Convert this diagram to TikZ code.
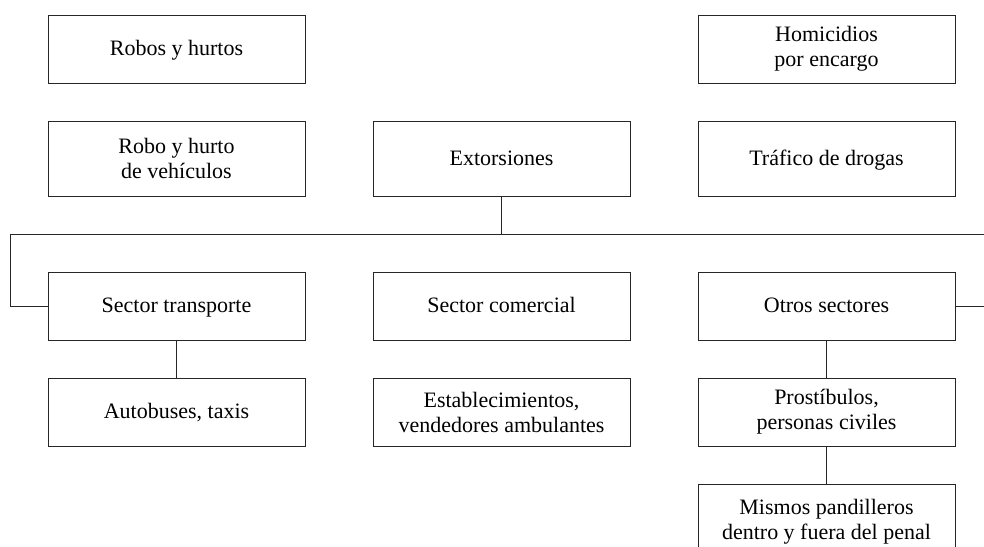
\documentclass[tikz,border=0pt]{standalone}
\usepackage{fontspec}
\setmainfont{Liberation Serif}
\begin{document}
\begin{tikzpicture}[x=1pt,y=-1pt,
  box/.style={draw=black!85,line width=1pt,minimum width=257pt,inner sep=0pt,align=center,
    font=\fontsize{22}{25}\selectfont},
  lo/.style={box,minimum height=68pt},
  hi/.style={box,minimum height=75pt},
  one/.style={text height=15pt,text depth=2pt},
  conn/.style={draw=black!85,line width=1pt}]
\useasboundingbox (0,0) rectangle (984,546);
\clip (0,0) rectangle (984,546);
\node[lo,one] (robos) at (176.5,49) {Robos y hurtos};
\node[lo] (homi) at (826.5,49) {Homicidios\\por encargo};
\node[hi] (veh) at (176.5,158.5) {Robo y hurto\\de vehículos};
\node[hi,one] (ext) at (501.5,158.5) {Extorsiones};
\node[hi,one] (traf) at (826.5,158.5) {Tráfico de drogas};
\node[lo,one] (st) at (176.5,306) {Sector transporte};
\node[lo,one] (sc) at (501.5,306) {Sector comercial};
\node[lo,one] (os) at (826.5,306) {Otros sectores};
\node[lo,one] (auto) at (176.5,412) {Autobuses, taxis};
\node[lo] (estab) at (501.5,412) {Establecimientos,\\vendedores ambulantes};
\node[lo] (pros) at (826.5,412) {Prostíbulos,\\personas civiles};
\node[hi] (mis) at (826.5,521.5) {Mismos pandilleros\\dentro y fuera del penal};
\coordinate (busL) at (10,234);
\coordinate (busR) at (1000,234);
\draw[conn] (ext.south) -- (ext.south |- busL);
\draw[conn] (st.west) -| (busL) -- (busR) |- (os.east);
\draw[conn] (st) -- (auto);
\draw[conn] (os) -- (pros);
\draw[conn] (pros) -- (mis);
\end{tikzpicture}
\end{document}
